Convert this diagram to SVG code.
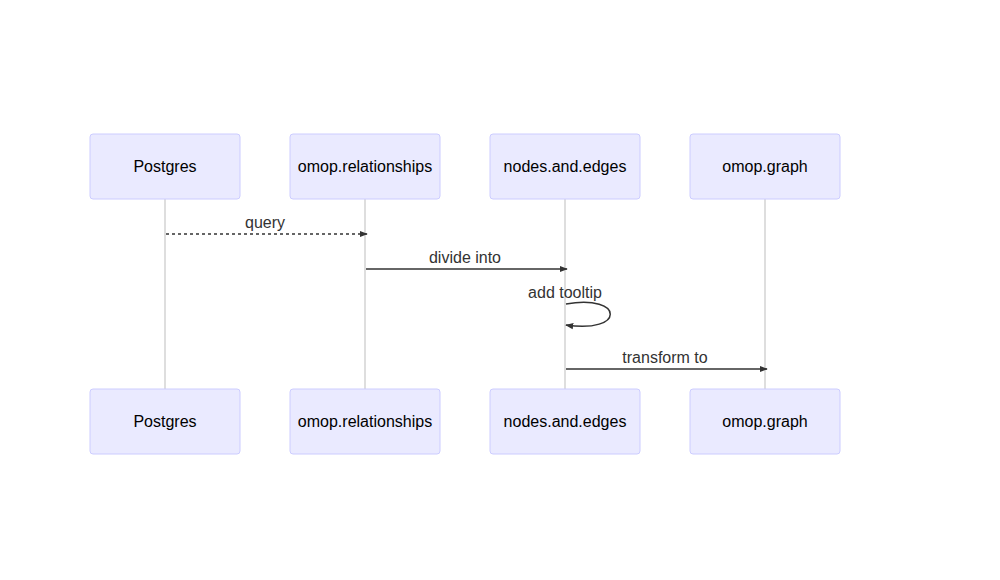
<svg xmlns="http://www.w3.org/2000/svg" width="1000" height="580" viewBox="0 0 1000 580">
<style>
.actor{fill:#eaeaff;stroke:#ccccff;stroke-width:1}
.atext{font-family:"Liberation Sans",Arial,sans-serif;font-size:16px;fill:#000;text-anchor:middle;dominant-baseline:central}
.life{stroke:#d3d3d3;stroke-width:1.5;fill:none}
.msg{stroke:#333;stroke-width:1.5;fill:none}
.mtext{font-family:"Liberation Sans",Arial,sans-serif;font-size:16px;fill:#333;text-anchor:middle}
</style>
<defs>
<marker id="arrow" viewBox="0 0 10 10" refX="9" refY="5" markerWidth="8" markerHeight="8" markerUnits="userSpaceOnUse" orient="auto">
<path d="M0,1 L10,5 L0,9 z" fill="#333"/>
</marker>
</defs>
<rect width="1000" height="580" fill="#fff"/>
<g id="lifelines">
<line class="life" x1="165" y1="199" x2="165" y2="389"/>
<line class="life" x1="365" y1="199" x2="365" y2="389"/>
<line class="life" x1="565" y1="199" x2="565" y2="389"/>
<line class="life" x1="765" y1="199" x2="765" y2="389"/>
</g>
<g id="postgres-top"><rect class="actor" x="90" y="134" width="150" height="65" rx="3"/><text class="atext" x="165" y="166.5">Postgres</text></g>
<g id="rel-top"><rect class="actor" x="290" y="134" width="150" height="65" rx="3"/><text class="atext" x="365" y="166.5">omop.relationships</text></g>
<g id="nodes-top"><rect class="actor" x="490" y="134" width="150" height="65" rx="3"/><text class="atext" x="565" y="166.5">nodes.and.edges</text></g>
<g id="graph-top"><rect class="actor" x="690" y="134" width="150" height="65" rx="3"/><text class="atext" x="765" y="166.5">omop.graph</text></g>
<g id="postgres-bottom"><rect class="actor" x="90" y="389" width="150" height="65" rx="3"/><text class="atext" x="165" y="421.5">Postgres</text></g>
<g id="rel-bottom"><rect class="actor" x="290" y="389" width="150" height="65" rx="3"/><text class="atext" x="365" y="421.5">omop.relationships</text></g>
<g id="nodes-bottom"><rect class="actor" x="490" y="389" width="150" height="65" rx="3"/><text class="atext" x="565" y="421.5">nodes.and.edges</text></g>
<g id="graph-bottom"><rect class="actor" x="690" y="389" width="150" height="65" rx="3"/><text class="atext" x="765" y="421.5">omop.graph</text></g>
<g id="connectors">
<line class="msg" x1="166" y1="234" x2="367" y2="234" stroke-dasharray="3,3" marker-end="url(#arrow)"/>
<text class="mtext" x="265" y="228">query</text>
<line class="msg" x1="366" y1="269" x2="567" y2="269" marker-end="url(#arrow)"/>
<text class="mtext" x="465" y="263">divide into</text>
<path class="msg" d="M566,304 C625,294 625,334 566,325" marker-end="url(#arrow)"/>
<text class="mtext" x="565" y="298">add tooltip</text>
<line class="msg" x1="566" y1="369" x2="767" y2="369" marker-end="url(#arrow)"/>
<text class="mtext" x="665" y="363">transform to</text>
</g>
</svg>
